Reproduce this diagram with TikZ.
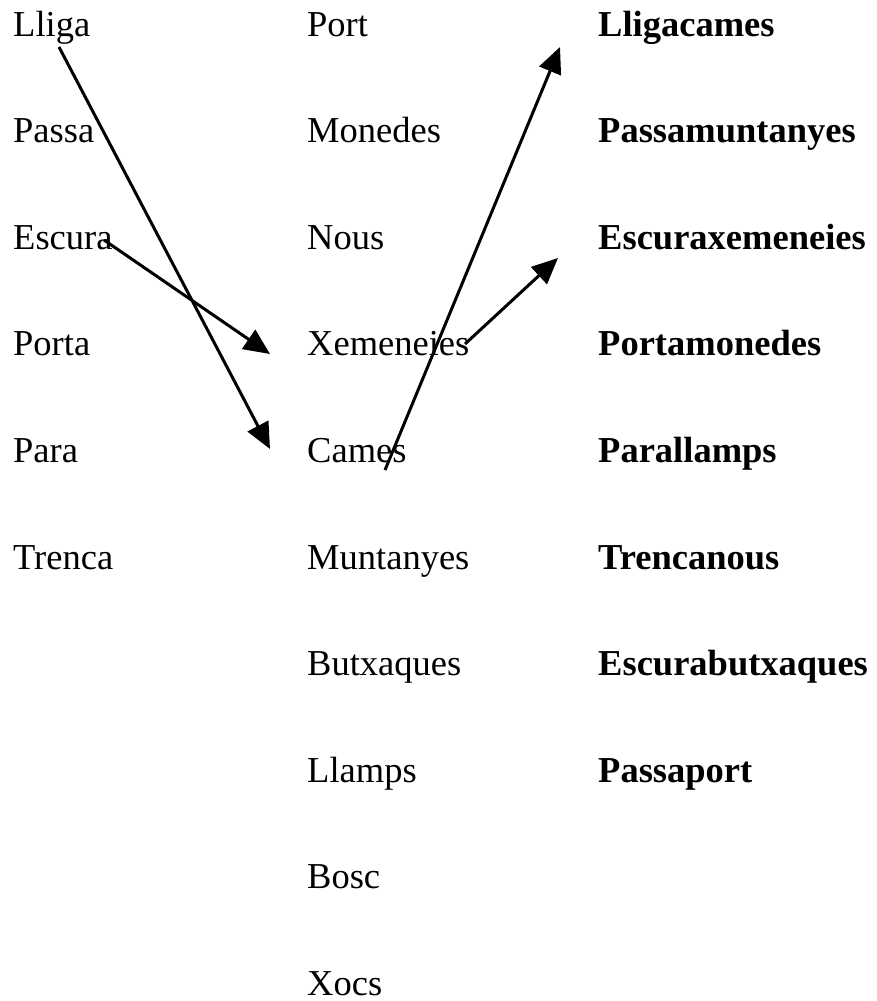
\documentclass[tikz,border=0pt]{standalone}
\usepackage{fontspec}
\setmainfont{Liberation Serif}
\usetikzlibrary{arrows.meta}
\begin{document}
\begin{tikzpicture}[x=1pt,y=1pt,
  lbl/.style={anchor=base west,inner sep=0pt,font=\fontsize{36.5}{40}\selectfont},
  blbl/.style={lbl,font=\fontsize{36.5}{40}\selectfont\bfseries},
  conn/.style={line width=3pt,-{Triangle[length=26pt,width=23pt]}}]
\useasboundingbox (0,0) rectangle (877,-1001);
\def\rs{106.6}
\def\bt{36}
% left column
\node[lbl] (l1) at (13,-\bt) {Lliga};
\node[lbl] (l2) at (13,-\bt-\rs) {Passa};
\node[lbl] (l3) at (13,-\bt-2*\rs) {Escura};
\node[lbl] (l4) at (13,-\bt-3*\rs) {Porta};
\node[lbl] (l5) at (13,-\bt-4*\rs) {Para};
\node[lbl] (l6) at (13,-\bt-5*\rs) {Trenca};
% middle column
\node[lbl] (m1) at (307,-\bt) {Port};
\node[lbl] (m2) at (307,-\bt-\rs) {Monedes};
\node[lbl] (m3) at (307,-\bt-2*\rs) {Nous};
\node[lbl] (m4) at (307,-\bt-3*\rs) {Xemeneies};
\node[lbl] (m5) at (307,-\bt-4*\rs) {Cames};
\node[lbl] (m6) at (307,-\bt-5*\rs) {Muntanyes};
\node[lbl] (m7) at (307,-\bt-6*\rs) {Butxaques};
\node[lbl] (m8) at (307,-\bt-7*\rs) {Llamps};
\node[lbl] (m9) at (307,-\bt-8*\rs) {Bosc};
\node[lbl] (m10) at (307,-\bt-9*\rs) {Xocs};
% right column
\node[blbl] (r1) at (598,-\bt) {Lligacames};
\node[blbl] (r2) at (598,-\bt-\rs) {Passamuntanyes};
\node[blbl] (r3) at (598,-\bt-2*\rs) {Escuraxemeneies};
\node[blbl] (r4) at (598,-\bt-3*\rs) {Portamonedes};
\node[blbl] (r5) at (598,-\bt-4*\rs) {Parallamps};
\node[blbl] (r6) at (598,-\bt-5*\rs) {Trencanous};
\node[blbl] (r7) at (598,-\bt-6*\rs) {Escurabutxaques};
\node[blbl] (r8) at (598,-\bt-7*\rs) {Passaport};
% connector ends
\coordinate (a1s) at (59,-47);
\coordinate (a1e) at (270,-449);
\coordinate (a2s) at (104,-240);
\coordinate (a2e) at (270,-354);
\coordinate (a3s) at (385,-470);
\coordinate (a3e) at (560,-47);
\coordinate (a4s) at (465,-344);
\coordinate (a4e) at (558,-258);
\draw[conn] (a1s) -- (a1e);
\draw[conn] (a2s) -- (a2e);
\draw[conn] (a3s) -- (a3e);
\draw[conn] (a4s) -- (a4e);
\end{tikzpicture}
\end{document}
